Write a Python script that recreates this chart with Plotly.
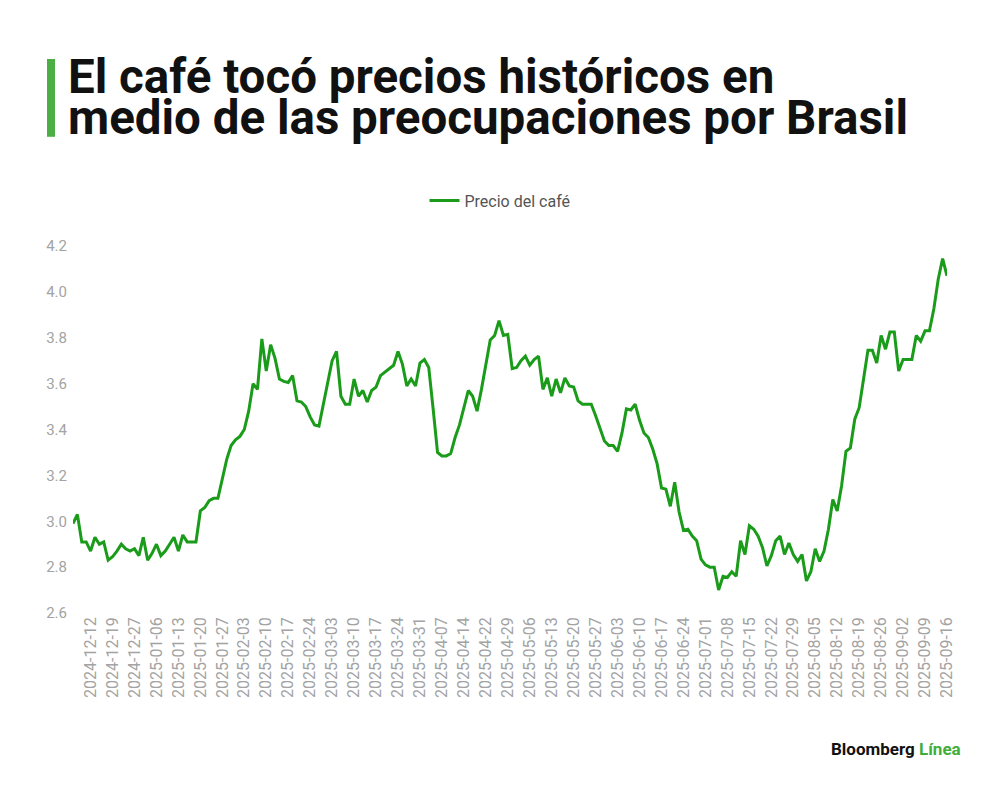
import pandas as pd
import plotly.graph_objects as go

# ---- data ----
start_date = "2024-12-06"
end_date = "2025-09-16"
market_holidays = ["2024-12-25", "2025-01-01", "2025-04-18"]

prices = [
    2.99, 3.03, 2.91, 2.91, 2.87, 2.93, 2.90, 2.91, 2.83, 2.845,
    2.87, 2.90, 2.88, 2.87, 2.88, 2.85, 2.93, 2.83, 2.86, 2.90,
    2.85, 2.87, 2.90, 2.93, 2.87, 2.94, 2.91, 2.91, 2.91,
    3.045, 3.06, 3.09, 3.10, 3.10, 3.18, 3.27, 3.33, 3.355, 3.37,
    3.40, 3.48, 3.60, 3.575, 3.795, 3.655, 3.77, 3.71, 3.62, 3.61,
    3.605, 3.635, 3.525, 3.52, 3.50, 3.455, 3.42, 3.415, 3.51,
    3.605, 3.70, 3.74, 3.545, 3.51, 3.51, 3.62, 3.545, 3.57, 3.52,
    3.57, 3.585, 3.635, 3.65, 3.665, 3.68, 3.74, 3.685, 3.59, 3.62,
    3.59, 3.69, 3.705, 3.67, 3.49, 3.30, 3.285, 3.285, 3.295, 3.365,
    3.42, 3.495, 3.57, 3.545, 3.48, 3.575, 3.69, 3.79, 3.81,
    3.875, 3.81, 3.815, 3.665, 3.67, 3.70, 3.72, 3.68, 3.705, 3.72,
    3.575, 3.625, 3.545, 3.62, 3.56, 3.625, 3.59, 3.585, 3.525, 3.51,
    3.51, 3.51, 3.46, 3.40, 3.35, 3.33, 3.33, 3.305, 3.385, 3.49,
    3.485, 3.51, 3.44, 3.385, 3.365, 3.315, 3.25, 3.145, 3.14,
    3.065, 3.17, 3.04, 2.96, 2.965, 2.935, 2.915, 2.835, 2.81, 2.80,
    2.80, 2.70, 2.76, 2.755, 2.78, 2.76, 2.915, 2.855, 2.98, 2.965,
    2.935, 2.885, 2.805, 2.85, 2.915, 2.935, 2.855, 2.905, 2.855, 2.825,
    2.855, 2.74, 2.78, 2.88, 2.825, 2.87, 2.965, 3.095, 3.045,
    3.155, 3.305, 3.32, 3.445, 3.495, 3.62, 3.745, 3.745, 3.69, 3.81,
    3.75, 3.825, 3.825, 3.655, 3.705, 3.705, 3.705, 3.81, 3.785, 3.83,
    3.83, 3.925, 4.055, 4.145, 4.07,
]

y_ticks = [2.6, 2.8, 3.0, 3.2, 3.4, 3.6, 3.8, 4.0, 4.2]

series_name = "Precio del café"
title_line1 = "El café tocó precios históricos en"
title_line2 = "medio de las preocupaciones por Brasil"

# trading-day categories
dates = [d.strftime("%Y-%m-%d") for d in pd.bdate_range(start_date, end_date)]
dates = [d for d in dates if d not in market_holidays]
n = min(len(dates), len(prices))
dates = dates[-n:]
prices = prices[-n:]
tick_dates = dates[(n - 1) % 5::5]

# ---- layout geometry (figure pixels; page adds ~8px offset) ----
W, H = 1000, 790
OFF = 8
L, R, T, B = 65, 61, 237.5, 184.5
pw, ph = W - L - R, H - T - B


def px(x):
    return (x - OFF - L) / pw


def py(y):
    return (H - B - (y - OFF)) / ph


LINE_GREEN = "#1a9c1a"
BAR_GREEN = "#4caf45"
TICK_GRAY = "#a3a3a3"

fig = go.Figure()
fig.add_trace(go.Scatter(
    x=dates, y=prices, mode="lines", name=series_name,
    line=dict(color=LINE_GREEN, width=3),
))

fig.update_layout(
    width=W, height=H,
    margin=dict(l=L, r=R, t=T, b=B, autoexpand=False),
    paper_bgcolor="white", plot_bgcolor="white",
    font=dict(family="Roboto", color="#555555"),
    showlegend=True,
    legend=dict(
        orientation="h", x=px(500), xanchor="center", y=py(200), yanchor="middle",
        font=dict(size=16, color="#555555", family="Roboto"),
        itemwidth=30,
    ),
    xaxis=dict(
        type="category", range=[0, n - 1],
        tickmode="array", tickvals=tick_dates, ticktext=tick_dates,
        tickangle=-90, showgrid=False, showline=False, zeroline=False,
        ticks="", tickfont=dict(size=16, color=TICK_GRAY, family="Roboto"),
        automargin=False,
    ),
    yaxis=dict(
        range=[2.6, 4.2], tickmode="array", tickvals=y_ticks,
        ticktext=[f"{v:.1f}" for v in y_ticks],
        showgrid=False, showline=False, zeroline=False, ticks="",
        ticklabelstandoff=5,
        tickfont=dict(size=15, color=TICK_GRAY, family="Roboto"),
        automargin=False,
    ),
    shapes=[dict(
        type="rect", xref="paper", yref="paper",
        x0=px(47), x1=px(55), y0=py(136), y1=py(58),
        fillcolor=BAR_GREEN, line=dict(width=0),
    )],
    annotations=[
        dict(text=f"<b>{title_line1}</b>", xref="paper", yref="paper",
             x=px(66), y=py(76), xanchor="left", yanchor="middle",
             showarrow=False, font=dict(size=47.5, color="#111111", family="Roboto")),
        dict(text=f"<b>{title_line2}</b>", xref="paper", yref="paper",
             x=px(66), y=py(117), xanchor="left", yanchor="middle",
             showarrow=False, font=dict(size=47.5, color="#111111", family="Roboto")),
        dict(text="<b>Bloomberg</b> <b><span style='color:#3fae3a'>Línea</span></b>",
             xref="paper", yref="paper", x=px(963), y=py(750),
             xanchor="right", yanchor="middle", showarrow=False,
             font=dict(size=17, color="#111111", family="Roboto")),
    ],
)

fig.write_html("out.html")
